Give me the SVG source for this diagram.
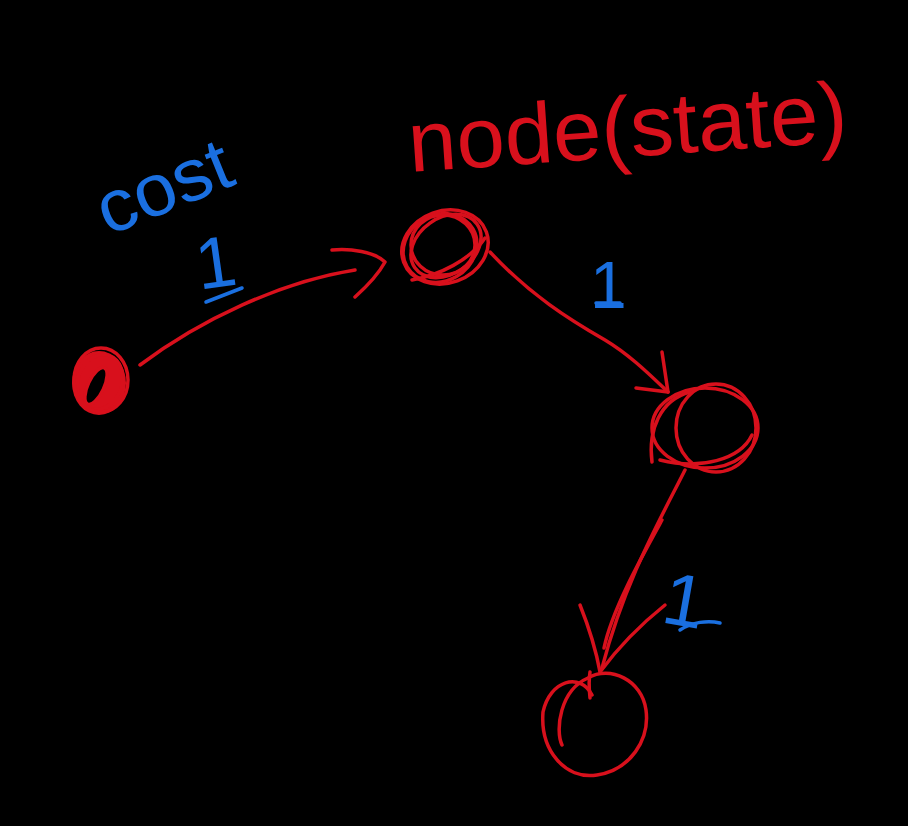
<svg xmlns="http://www.w3.org/2000/svg" width="908" height="826" viewBox="0 0 908 826">
<style>
.r{fill:none;stroke:#d8101c;stroke-width:3.5;stroke-linecap:round;stroke-linejoin:round}
.b{fill:none;stroke:#1a6fe0;stroke-width:3.5;stroke-linecap:round}
.rt{fill:#d8101c;font-family:"Liberation Sans",Arial,sans-serif}
.bt{fill:#1a6fe0;font-family:"Liberation Sans",Arial,sans-serif}
</style>
<rect width="908" height="826" fill="#000"/>
<text class="bt" x="0" y="0" font-size="74" textLength="140" lengthAdjust="spacingAndGlyphs" transform="translate(108,236) rotate(-22)">cost</text>
<text class="rt" x="410" y="172" font-size="86" textLength="440" lengthAdjust="spacingAndGlyphs" transform="rotate(-4 410 172)">node(state)</text>
<g id="connectors">
<path class="r" d="M140,365 C200,320 280,282 355,270"/>
<path class="r" d="M332,250 C350,248 375,252 385,262 C378,275 365,288 355,297"/>
<path class="r" d="M490,252 C530,295 570,320 605,340 C630,355 650,375 668,392"/>
<path class="r" d="M636,388 L668,392 L662,352"/>
<path class="r" d="M685,470 C660,520 625,580 602,668"/>
<path class="r" d="M662,520 C640,560 612,610 604,648"/>
<path class="r" d="M580,605 C588,625 596,650 600,672 C620,645 640,625 665,605"/>
</g>
<g id="labels">
<text class="bt" x="196" y="288" font-size="72" font-weight="300" transform="rotate(-8 210 265)">1</text>
<path class="b" d="M206,302 L242,288"/>
<text class="bt" x="590" y="308" font-size="66">1</text>
<path class="b" d="M596,303 L620,303"/>
<text class="bt" x="664" y="626" font-size="74" transform="rotate(10 685 600)">1</text>
<path class="b" d="M680,630 C692,622 708,620 720,623"/>
</g>
<g id="node1">
<ellipse cx="99" cy="383" rx="27" ry="32" fill="#d8101c"/>
<ellipse cx="96" cy="386" rx="8" ry="20" fill="#000" transform="rotate(25 96 386)"/>
<ellipse class="r" cx="96" cy="386" rx="8" ry="20" transform="rotate(25 96 386)" stroke-width="2.5"/>
<ellipse class="r" cx="100" cy="382" rx="22" ry="28" transform="rotate(20 100 382)"/>
<ellipse class="r" cx="101" cy="380" rx="27" ry="32"/>
</g>
<g id="node2">
<ellipse class="r" cx="445" cy="247" rx="44" ry="36" transform="rotate(-20 445 247)"/>
<ellipse class="r" cx="440" cy="248" rx="38" ry="33" transform="rotate(-30 440 248)"/>
<ellipse class="r" cx="443" cy="245" rx="32" ry="30"/>
<ellipse class="r" cx="446" cy="246" rx="38" ry="28" transform="rotate(-35 446 246)"/>
<path class="r" d="M412,280 C440,275 470,260 485,238"/>
</g>
<g id="node3">
<ellipse class="r" cx="705" cy="428" rx="53" ry="40"/>
<ellipse class="r" cx="716" cy="428" rx="40" ry="44"/>
<path class="r" d="M652,462 C648,430 660,400 690,392"/>
<path class="r" d="M660,460 C700,470 740,460 752,435"/>
</g>
<g id="node4">
<path class="r" d="M592,695 C580,672 550,680 543,712 C540,750 565,780 597,775 C630,770 650,740 646,710 C642,680 610,665 588,678 C560,690 555,730 562,745"/>
<path class="r" d="M590,672 C588,685 590,695 590,698"/>
</g>
</svg>
